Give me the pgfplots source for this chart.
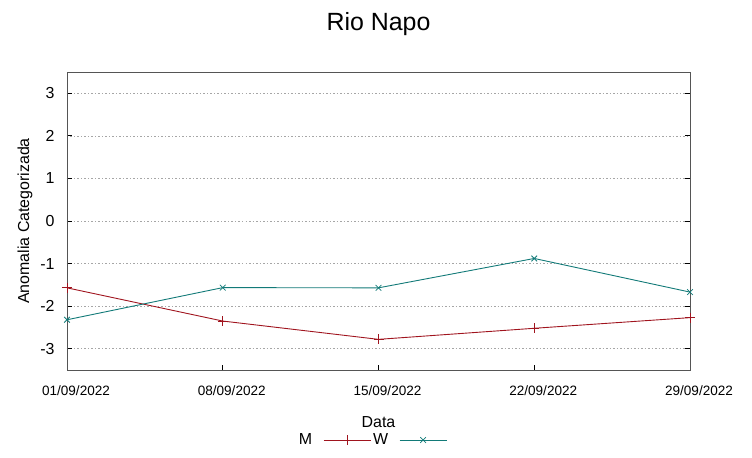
\documentclass[border=0pt]{standalone}
\usepackage{pgfplots}
\pgfplotsset{compat=1.18}
\usepackage{fontspec}
\setmainfont{Liberation Sans}
\definecolor{mred}{HTML}{A0141E}
\definecolor{wteal}{HTML}{127A78}
\definecolor{frame}{HTML}{555555}
\begin{document}
\begin{tikzpicture}
\path[use as bounding box] (-67bp,-88bp) rectangle (685bp,370bp);
\begin{axis}[
  scale only axis,
  width=623bp, height=298bp,
  at={(0,0)}, anchor=south west,
  xmin=0, xmax=4, ymin=-3.5, ymax=3.5,
  xtick={0,1,2,3,4},
  xticklabels={01/09/2022,08/09/2022,15/09/2022,22/09/2022,29/09/2022},
  ytick={-3,-2,-1,0,1,2,3},
  tick align=inside,
  xtick pos=bottom,
  ytick pos=both,
  major tick length=5bp,
  axis line style={frame, line width=0.9pt},
  tick style={black, line width=0.8pt},
  ymajorgrids,
  grid style={gray!70, dash pattern=on 1.5bp off 2bp, line width=0.6pt},
  /pgf/number format/assume math mode=true,
  xticklabel style={font=\fontsize{13.6}{16}\selectfont, anchor=base, yshift=-25bp, xshift=9bp},
  yticklabel style={font=\fontsize{16}{19}\selectfont, xshift=-9bp},
  title={Rio Napo},
  title style={font=\fontsize{25}{30}\selectfont, at={(0.5,1)}, anchor=base, yshift=36bp},
  xlabel={Data},
  xlabel style={font=\fontsize{16}{19}\selectfont, at={(0.5,0)}, anchor=base, yshift=-57bp},
  ylabel={Anomalia Categorizada},
  ylabel style={font=\fontsize{16}{19}\selectfont, at={(-0.0675,0.5)}, anchor=center, rotate=0},
  legend columns=2,
  legend plot pos=right,
  legend style={at={(0.4896,-0.235)}, anchor=center, draw=none, fill=none,
    font=\fontsize{16}{19}\selectfont,
    /tikz/every odd column/.append style={column sep=9bp},
    /tikz/every even column/.append style={column sep=0pt}},
  legend image code/.code={%
    \draw[#1, mark repeat=2, mark phase=2] plot coordinates {(0bp,0bp) (23.5bp,0bp) (47bp,0bp)};},
]
\addplot[mred, line width=0.9pt, mark=+, mark size=5bp, mark options={line width=0.8pt}]
  coordinates {(0,-1.57) (1,-2.35) (2,-2.78) (3,-2.52) (4,-2.27)};
\addplot[wteal, line width=0.9pt, mark=x, mark size=4bp, mark options={line width=0.8pt}]
  coordinates {(0,-2.32) (1,-1.565) (2,-1.57) (3,-0.88) (4,-1.67)};
\legend{M,W}
\end{axis}
\end{tikzpicture}
\end{document}
